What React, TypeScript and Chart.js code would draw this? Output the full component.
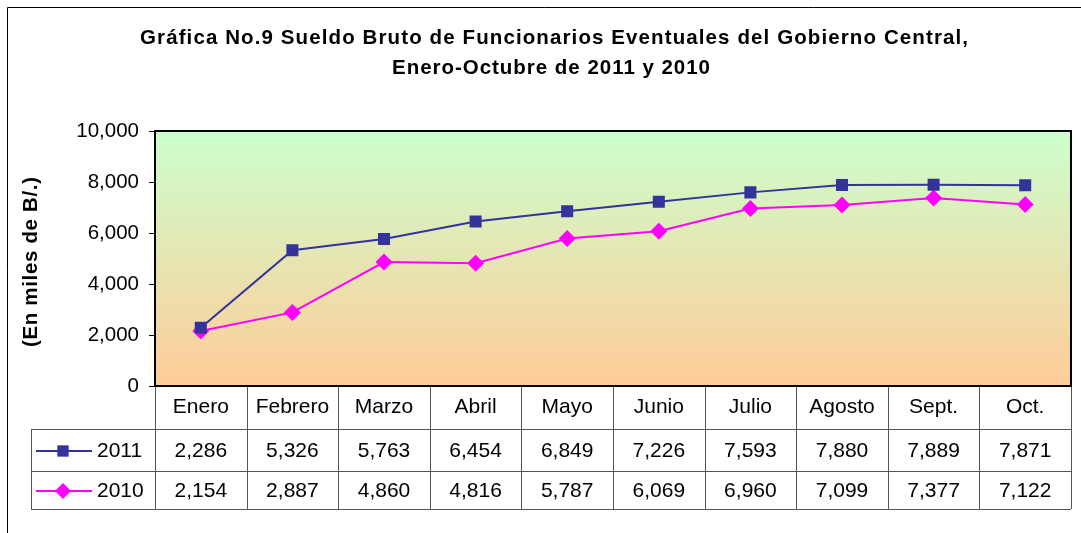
import { useEffect, useRef } from 'react';
import { Chart, registerables } from 'chart.js';

Chart.register(...registerables);

const months = ['Enero', 'Febrero', 'Marzo', 'Abril', 'Mayo', 'Junio', 'Julio', 'Agosto', 'Sept.', 'Oct.'];
const sueldo2011 = [2286, 5326, 5763, 6454, 6849, 7226, 7593, 7880, 7889, 7871];
const sueldo2010 = [2154, 2887, 4860, 4816, 5787, 6069, 6960, 7099, 7377, 7122];
const seriesNames = ['2011', '2010'];
const titleLines = [
  'Gráfica No.9 Sueldo Bruto de Funcionarios Eventuales del Gobierno Central,',
  'Enero-Octubre de 2011 y 2010',
];
const yAxisTitle = '(En miles de B/.)';

const FONT = '"Liberation Sans", Arial, Helvetica, sans-serif';
const COLOR_2011 = '#333399';
const COLOR_2010 = '#ff00ff';
const fmt = (v: number) => v.toLocaleString('en-US');

function drawMarker(ctx: CanvasRenderingContext2D, kind: 'square' | 'diamond', x: number, y: number, r: number, color: string) {
  ctx.save();
  ctx.fillStyle = color;
  ctx.beginPath();
  if (kind === 'square') {
    const s = r * Math.SQRT1_2;
    ctx.rect(x - s, y - s, 2 * s, 2 * s);
  } else {
    ctx.moveTo(x - r, y);
    ctx.lineTo(x, y - r);
    ctx.lineTo(x + r, y);
    ctx.lineTo(x, y + r);
    ctx.closePath();
  }
  ctx.fill();
  ctx.restore();
}

function fitText(ctx: CanvasRenderingContext2D, text: string, x: number, y: number, target: number) {
  const anyCtx = ctx as any;
  anyCtx.letterSpacing = '0px';
  const w = ctx.measureText(text).width;
  const sp = (target - w) / Math.max(1, text.length - 1);
  anyCtx.letterSpacing = `${sp}px`;
  ctx.textAlign = 'left';
  ctx.fillText(text, x - target / 2, y);
  anyCtx.letterSpacing = '0px';
}

const decorPlugin = {
  id: 'decor',
  beforeDraw(chart: any) {
    const { ctx, chartArea: a, width, height } = chart;
    ctx.save();
    ctx.fillStyle = '#ffffff';
    ctx.fillRect(0, 0, width, height);
    const g = ctx.createLinearGradient(0, a.top, 0, a.bottom);
    g.addColorStop(0, '#ccffcc');
    g.addColorStop(1, '#ffcc99');
    ctx.fillStyle = g;
    ctx.fillRect(a.left, a.top, a.right - a.left, a.bottom - a.top);
    ctx.restore();
  },
  afterDraw(chart: any) {
    const { ctx, chartArea: a } = chart;
    const xs = chart.scales.x;
    ctx.save();

    // outer border
    ctx.strokeStyle = '#000';
    ctx.lineWidth = 1;
    ctx.beginPath();
    ctx.moveTo(7.5, 600);
    ctx.lineTo(7.5, 7.5);
    ctx.lineTo(1100, 7.5);
    ctx.stroke();

    // title
    ctx.fillStyle = '#000';
    ctx.font = `bold 20.5px ${FONT}`;
    ctx.textBaseline = 'alphabetic';
    fitText(ctx, titleLines[0], 554, 44, 828);
    fitText(ctx, titleLines[1], 551, 74, 318);

    // y axis title
    ctx.save();
    ctx.translate(31, 262);
    ctx.rotate(-Math.PI / 2);
    ctx.font = `bold 20.5px ${FONT}`;
    ctx.textBaseline = 'middle';
    fitText(ctx, yAxisTitle, 0, 0, 170);
    ctx.restore();

    // data table
    const colW = (a.right - a.left) / months.length;
    const legendLeft = 31;
    const headerBottom = 429;
    const rowMid = 471;
    const tableBottom = 509;
    ctx.strokeStyle = '#555';
    ctx.lineWidth = 1;
    ctx.beginPath();
    for (let i = 0; i <= months.length; i++) {
      const x = Math.round(a.left + i * colW) + 0.5;
      ctx.moveTo(x, a.bottom);
      ctx.lineTo(x, tableBottom);
    }
    [headerBottom, rowMid, tableBottom].forEach((y) => {
      ctx.moveTo(legendLeft, y + 0.5);
      ctx.lineTo(a.right, y + 0.5);
    });
    ctx.moveTo(legendLeft + 0.5, headerBottom);
    ctx.lineTo(legendLeft + 0.5, tableBottom);
    ctx.stroke();

    ctx.fillStyle = '#000';
    ctx.font = `21px ${FONT}`;
    ctx.textAlign = 'center';
    ctx.textBaseline = 'middle';
    months.forEach((m, i) => {
      const cx = xs.getPixelForValue(i);
      ctx.fillText(m, cx, 407);
      ctx.fillText(fmt(sueldo2011[i]), cx, 451);
      ctx.fillText(fmt(sueldo2010[i]), cx, 491);
    });

    // legend keys
    const rows = [
      { y: 451, color: COLOR_2011, kind: 'square' as const, r: 8 },
      { y: 491, color: COLOR_2010, kind: 'diamond' as const, r: 8 },
    ];
    rows.forEach((row, k) => {
      ctx.strokeStyle = row.color;
      ctx.lineWidth = 2;
      ctx.beginPath();
      ctx.moveTo(36, row.y);
      ctx.lineTo(92, row.y);
      ctx.stroke();
      drawMarker(ctx, row.kind, 63, row.y, row.r, row.color);
      ctx.fillStyle = '#000';
      ctx.textAlign = 'left';
      ctx.fillText(seriesNames[k], 97, row.y);
    });

    // plot frame
    ctx.strokeStyle = '#000';
    ctx.lineWidth = 2;
    ctx.strokeRect(a.left, a.top, a.right - a.left, a.bottom - a.top);
    ctx.restore();
  },
};

export default function App() {
  const ref = useRef<HTMLCanvasElement>(null);
  useEffect(() => {
    if (!ref.current) return;
    const chart = new Chart(ref.current, {
      type: 'line',
      data: {
        labels: months,
        datasets: [
          {
            label: seriesNames[0],
            data: sueldo2011,
            borderColor: COLOR_2011,
            backgroundColor: COLOR_2011,
            borderWidth: 2,
            pointStyle: 'rect',
            pointRadius: 8.5,
            pointBorderWidth: 0,
            pointHoverRadius: 8.5,
            tension: 0,
          },
          {
            label: seriesNames[1],
            data: sueldo2010,
            borderColor: COLOR_2010,
            backgroundColor: COLOR_2010,
            borderWidth: 2,
            pointStyle: 'rectRot',
            pointRadius: 8.5,
            pointBorderWidth: 0,
            pointHoverRadius: 8.5,
            tension: 0,
          },
        ],
      },
      options: {
        responsive: false,
        animation: false,
        events: [],
        layout: { padding: { left: 0, right: 10, top: 131, bottom: 147 } },
        plugins: { legend: { display: false }, title: { display: false }, tooltip: { enabled: false } },
        scales: {
          x: { display: false, offset: true },
          y: {
            min: 0,
            max: 10000,
            afterFit: (s: any) => { s.width = 155; },
            ticks: {
              stepSize: 2000,
              color: '#000',
              padding: 10,
              font: { family: FONT, size: 20.5 },
              callback: (v: any) => fmt(Number(v)),
            },
            grid: { drawOnChartArea: false, drawTicks: true, tickLength: 6, color: '#000', lineWidth: 1 },
            border: { display: false },
          },
        },
      },
      plugins: [decorPlugin],
    });
    return () => chart.destroy();
  }, []);
  return (
    <div style={{ position: 'fixed', left: 0, top: 0, width: 1081, height: 533, background: '#fff' }}>
      <canvas ref={ref} width={1081} height={533} style={{ display: 'block' }} />
    </div>
  );
}
